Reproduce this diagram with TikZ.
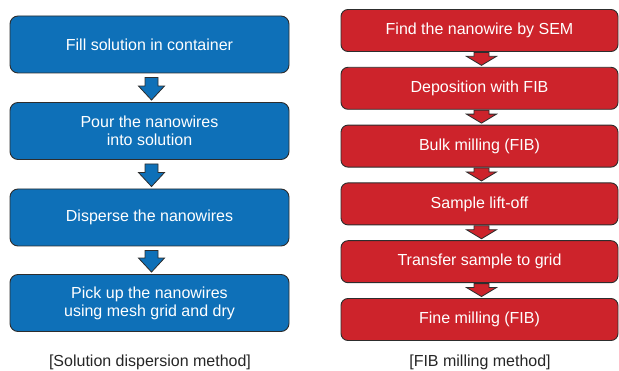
\documentclass[tikz,border=0pt]{standalone}
\usepackage{fontspec}
\setmainfont{Liberation Sans}
\usepackage{tikz}
\usetikzlibrary{calc}
\definecolor{StepBlue}{RGB}{14,112,184}
\definecolor{StepRed}{RGB}{205,35,43}
\definecolor{EdgeGray}{RGB}{45,45,45}

\begin{document}
\begin{tikzpicture}[
  x=1pt, y=-1pt,
  bluestep/.style={draw=EdgeGray, fill=StepBlue, line width=0.9pt, rounded corners=8pt,
                   minimum width=279pt, minimum height=57pt, text=white,
                   font=\fontsize{16}{18}\selectfont, align=center, inner sep=0pt},
  redstep/.style={draw=EdgeGray, fill=StepRed, line width=0.9pt, rounded corners=7pt,
                  minimum width=277pt, minimum height=42pt, text=white,
                  font=\fontsize{16}{18}\selectfont, align=center, inner sep=0pt},
  caption/.style={font=\fontsize{16}{18}\selectfont, text=black!85},
  bluearr/.style={draw=EdgeGray, fill=StepBlue, line width=0.8pt, line join=miter},
  redarr/.style={draw=EdgeGray, fill=StepRed, line width=0.8pt, line join=miter},
]
\useasboundingbox (0,0) rectangle (619,371);
% Solution dispersion method
\node[bluestep] (s1) at (149.5, 44.5) {Fill solution in container};
\node[bluestep] (s2) at (149.5,131)   {Pour the nanowires\\into solution};
\node[bluestep] (s3) at (149.5,217.5) {Disperse the nanowires};
\node[bluestep] (s4) at (149.5,303)   {Pick up the nanowires\\using mesh grid and dry};
\node[caption]  (capS) at (150,362)   {[Solution dispersion method]};
% FIB milling method
\node[redstep] (f1) at (479.5, 30.5) {Find the nanowire by SEM};
\node[redstep] (f2) at (479.5, 88.3) {Deposition with FIB};
\node[redstep] (f3) at (479.5,146.1) {Bulk milling (FIB)};
\node[redstep] (f4) at (479.5,203.9) {Sample lift-off};
\node[redstep] (f5) at (479.5,261.7) {Transfer sample to grid};
\node[redstep] (f6) at (479.5,319.5) {Fine milling (FIB)};
\node[caption] (capF) at (480,362)   {[FIB milling method]};
% block arrows
\foreach \a/\b in {s1/s2, s2/s3, s3/s4}
  \draw[bluearr] let \p1=($(\a.south)+(2pt,-4pt)$), \p2=($(\b.north)+(2pt,2pt)$) in
    (\x1-6.5pt,\y1) -- (\x1+6.5pt,\y1) -- (\x1+6.5pt,\y2+14pt) -- (\x1+13pt,\y2+14pt)
    -- (\x1,\y2) -- (\x1-13pt,\y2+14pt) -- (\x1-6.5pt,\y2+14pt) -- cycle;
\foreach \a/\b in {f1/f2, f2/f3, f3/f4, f4/f5, f5/f6}
  \draw[redarr] let \p1=($(\a.south)+(2pt,-0.5pt)$), \p2=($(\b.north)+(2pt,1.5pt)$) in
    (\x1-7.5pt,\y1) -- (\x1+7.5pt,\y1) -- (\x1+7.5pt,\y2+9pt) -- (\x1+15pt,\y2+9pt)
    -- (\x1,\y2) -- (\x1-15pt,\y2+9pt) -- (\x1-7.5pt,\y2+9pt) -- cycle;
\end{tikzpicture}
\end{document}
